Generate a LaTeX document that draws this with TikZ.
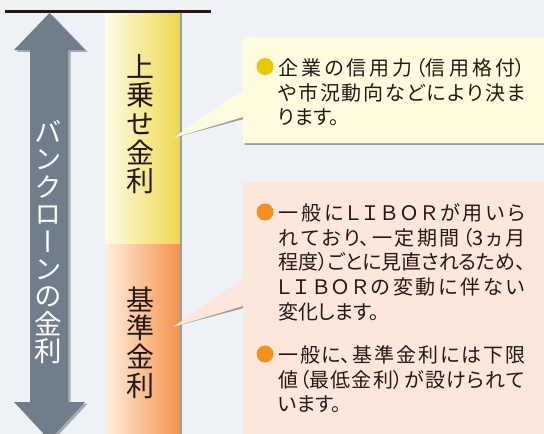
\documentclass[tikz,border=0pt]{standalone}
\usepackage{fontspec}
\newfontfamily\jp{Noto Sans CJK JP}[RawFeature=+palt]
\newfontfamily\jpv{Noto Sans CJK JP}[RawFeature=+vert]
\XeTeXlinebreaklocale "ja"
\XeTeXlinebreakskip=0pt plus 5pt minus 0.5pt
\definecolor{bg}{HTML}{EEF2F6}
\definecolor{ink}{HTML}{231815}
\definecolor{arrowc}{HTML}{6F7E8A}
\definecolor{arrowsh}{HTML}{A3ABB1}
\definecolor{ylight}{HTML}{FFFCE6}
\definecolor{ymid}{HTML}{F4E590}
\definecolor{ydark}{HTML}{EBD84A}
\definecolor{olight}{HTML}{FFF0DE}
\definecolor{omid}{HTML}{FAB47E}
\definecolor{odark}{HTML}{F5904A}
\definecolor{yfill}{HTML}{FFFBDF}
\definecolor{ofill}{HTML}{FDE6DC}
\definecolor{ybul}{HTML}{E9C800}
\definecolor{obul}{HTML}{F29021}
\definecolor{shc}{HTML}{9A9DA0}
\tikzset{
  txt/.style={font=\jp\fontsize{20}{24.6}\selectfont, text width=247pt, align=justify, inner sep=0pt, text=ink, anchor=base west},
  vlab/.style={font=\jpv\fontsize{28}{28.6}\selectfont, align=center, inner sep=0pt, text=ink},
}
\begin{document}
\begin{tikzpicture}[x=1pt,y=-1pt]
\path[use as bounding box, fill=bg] (0,0) rectangle (544,434);
% bars
\shade[left color=ylight, middle color=ymid, right color=ydark] (105,13) rectangle (180.5,244);
\shade[left color=olight, middle color=omid, right color=odark] (105,244) rectangle (180.5,434);
\draw[shc, line width=1.2pt] (181,13) -- (181,434);
% top rule
\draw[ink, line width=2.6pt] (5,11.5) -- (211,11.5);
% double arrow
\def\arrowpath{(49.5,13) -- (85,50) -- (68,50) -- (68,402) -- (85,402) -- (49.5,440) -- (14,402) -- (30,402) -- (30,50) -- (14,50) -- cycle}
\fill[arrowsh, xshift=2.5pt, yshift=-1.8pt] \arrowpath;
\fill[arrowc] \arrowpath;
% tips of callouts
\coordinate (ytip) at (173,138);
\coordinate (otip) at (173,327);
% yellow callout
\def\ycall{(243,37) -- (548,37) -- (548,143) -- (243,143) -- (243,117) -- (ytip) -- (243,90) -- cycle}
\fill[shc, xshift=1.5pt, yshift=-1.8pt] \ycall;
\fill[yfill] \ycall;
% orange callout
\def\ocall{(243,182) -- (548,182) -- (548,440) -- (243,440) -- (243,306) -- (otip) -- (243,278) -- cycle}
\fill[shc, xshift=1.5pt, yshift=-1.8pt] \ocall;
\fill[ofill] \ocall;
% vertical labels
\node[vlab] (l1) at (140.5,124) {上\\乗\\せ\\金\\利};
\node[vlab] (l2) at (140.5,342.5) {基\\準\\金\\利};
\node[vlab, text=white, font=\jpv\fontsize{27.5}{27.4}\selectfont] (l3) at (48,242) {バ\\ン\\ク\\ロ\\ー\\ン\\の\\金\\利};
% bullets
\coordinate (b1) at (265,66.5);
\coordinate (b2) at (265,212);
\coordinate (b3) at (265,354);
\fill[ybul] (b1) circle (8.5);
\fill[obul] (b2) circle (8.5);
\fill[obul] (b3) circle (8.5);
% texts
\node[txt] (t1) at (278,75.6) {企業の信用力（信用格付）\linebreak や市況動向などにより決ま\linebreak ります。};
\node[txt] (t2) at (278,220.6) {一般にＬＩＢＯＲが用いら\linebreak れており、一定期間（3ヵ月\linebreak 程度）ごとに見直されるため、\linebreak ＬＩＢＯＲの変動に伴ない\linebreak 変化します。};
\node[txt] (t3) at (278,362.6) {一般に、基準金利には下限\linebreak 値（最低金利）が設けられて\linebreak います。};
\end{tikzpicture}
\end{document}
